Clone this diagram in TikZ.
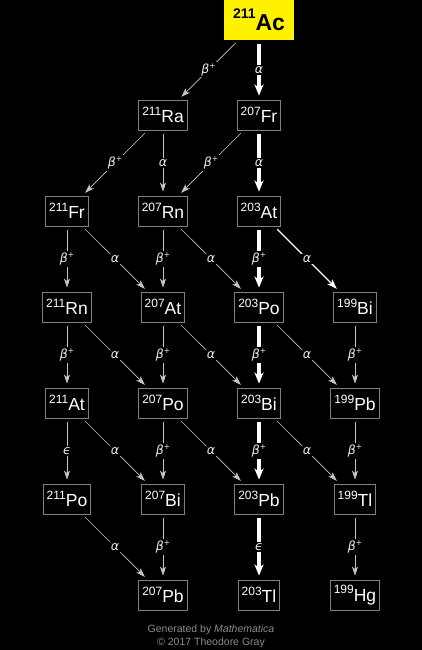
\documentclass[tikz,border=0pt]{standalone}
\usepackage{fontspec}
\setmainfont{Liberation Sans}
\newfontfamily\greekfont{DejaVu Sans}
\usetikzlibrary{arrows.meta}

\newcommand{\iso}[2]{\raisebox{7.5pt}{\fontsize{12}{12}\selectfont #1}{\fontsize{17.5}{17.5}\selectfont #2}}
\newcommand{\isobig}[2]{\textbf{\raisebox{12pt}{\fontsize{14}{14}\selectfont #1}{\fontsize{23}{23}\selectfont #2}}}
\newcommand{\bplus}{β\raisebox{4.5pt}{\fontsize{7.5}{7.5}\selectfont +}}

\tikzset{
  nuc/.style={draw=black!50, line width=0.8pt, fill=black, text=white,
    minimum height=30pt, inner xsep=3.5pt, inner ysep=0pt},
  parent/.style={fill=yellow, text=black, minimum width=70pt, minimum height=40pt,
    inner sep=0pt},
  weak/.style={draw=black!22, line width=0.7pt, shorten <=4pt, shorten >=4pt,
    -{Stealth[length=9pt, width=6pt, inset=2.5pt]}},
  mid/.style={draw=white, line width=1.3pt, shorten <=4pt, shorten >=4pt,
    -{Stealth[length=10pt, width=7pt, inset=2.5pt]}},
  strong/.style={draw=white, line width=3.5pt, shorten <=4pt, shorten >=4pt,
    -{Stealth[length=11pt, width=9pt, inset=3pt]}},
  mode/.style={fill=black, text=white!92!black, inner sep=1.5pt,
    font=\greekfont\itshape\fontsize{12.5}{12.5}\selectfont},
  credit/.style={text=black!45, font=\fontsize{10.5}{11}\selectfont}
}

\begin{document}
\begin{tikzpicture}[x=1pt, y=-1pt]
      \def\dx{96}
      \def\dy{96}
      \useasboundingbox[fill=black] (0,0) rectangle (422,650);
      %
      \node[parent] (Ac211) at (67+2*\dx, 20) {\isobig{211}{Ac}};        % top
      %%
      \node[nuc] (Ra211) at (67+1*\dx, 19+1*\dy) {\iso{211}{Ra}};
      \node[nuc] (Fr207) at (67+2*\dx, 19+1*\dy) {\iso{207}{Fr}};
      %%
      \node[nuc] (Fr211) at (67+0*\dx, 19+2*\dy) {\iso{211}{Fr}};
      \node[nuc] (Rn207) at (67+1*\dx, 19+2*\dy) {\iso{207}{Rn}};
      \node[nuc] (At203) at (67+2*\dx, 19+2*\dy) {\iso{203}{At}};
      %%
      \node[nuc] (Rn211) at (67+0*\dx, 19+3*\dy) {\iso{211}{Rn}};
      \node[nuc] (At207) at (67+1*\dx, 19+3*\dy) {\iso{207}{At}};
      \node[nuc] (Po203) at (67+2*\dx, 19+3*\dy) {\iso{203}{Po}};
      \node[nuc] (Bi199) at (67+3*\dx, 19+3*\dy) {\iso{199}{Bi}};
      %%
      \node[nuc] (At211) at (67+0*\dx, 19+4*\dy) {\iso{211}{At}};
      \node[nuc] (Po207) at (67+1*\dx, 19+4*\dy) {\iso{207}{Po}};
      \node[nuc] (Bi203) at (67+2*\dx, 19+4*\dy) {\iso{203}{Bi}};
      \node[nuc] (Pb199) at (67+3*\dx, 19+4*\dy) {\iso{199}{Pb}};
      %%
      \node[nuc] (Po211) at (67+0*\dx, 19+5*\dy) {\iso{211}{Po}};
      \node[nuc] (Bi207) at (67+1*\dx, 19+5*\dy) {\iso{207}{Bi}};
      \node[nuc] (Pb203) at (67+2*\dx, 19+5*\dy) {\iso{203}{Pb}};
      \node[nuc] (Tl199) at (67+3*\dx, 19+5*\dy) {\iso{199}{Tl}};
      %%
      \node[nuc] (Pb207) at (67+1*\dx, 19+6*\dy) {\iso{207}{Pb}};         % bottom
      \node[nuc] (Tl203) at (67+2*\dx, 19+6*\dy) {\iso{203}{Tl}};
      \node[nuc] (Hg199) at (67+3*\dx, 19+6*\dy) {\iso{199}{Hg}};
      %
      \draw[weak]   (Ac211) -- node[mode] {\bplus} (Ra211);
      \draw[strong] (Ac211) -- node[mode] {α} (Fr207);
      %%
      \draw[weak]   (Ra211) -- node[mode] {\bplus} (Fr211);
      \draw[weak]   (Ra211) -- node[mode] {α} (Rn207);
      \draw[weak]   (Fr207) -- node[mode] {\bplus} (Rn207);
      \draw[strong] (Fr207) -- node[mode] {α} (At203);
      %%
      \draw[weak]   (Fr211) -- node[mode] {\bplus} (Rn211);
      \draw[weak]   (Fr211) -- node[mode] {α} (At207);
      \draw[weak]   (Rn207) -- node[mode] {\bplus} (At207);
      \draw[weak]   (Rn207) -- node[mode] {α} (Po203);
      \draw[strong] (At203) -- node[mode] {\bplus} (Po203);
      \draw[mid]    (At203) -- node[mode] {α} (Bi199);
      %%
      \draw[weak]   (Rn211) -- node[mode] {\bplus} (At211);
      \draw[weak]   (Rn211) -- node[mode] {α} (Po207);
      \draw[weak]   (At207) -- node[mode] {\bplus} (Po207);
      \draw[weak]   (At207) -- node[mode] {α} (Bi203);
      \draw[strong] (Po203) -- node[mode] {\bplus} (Bi203);
      \draw[weak]   (Po203) -- node[mode] {α} (Pb199);
      \draw[weak]   (Bi199) -- node[mode] {\bplus} (Pb199);
      %%
      \draw[weak]   (At211) -- node[mode] {ϵ} (Po211);
      \draw[weak]   (At211) -- node[mode] {α} (Bi207);
      \draw[weak]   (Po207) -- node[mode] {\bplus} (Bi207);
      \draw[weak]   (Po207) -- node[mode] {α} (Pb203);
      \draw[strong] (Bi203) -- node[mode] {\bplus} (Pb203);
      \draw[weak]   (Bi203) -- node[mode] {α} (Tl199);
      \draw[weak]   (Pb199) -- node[mode] {\bplus} (Tl199);
      %%
      \draw[weak]   (Po211) -- node[mode] {α} (Pb207);
      \draw[weak]   (Bi207) -- node[mode] {\bplus} (Pb207);
      \draw[strong] (Pb203) -- node[mode] {ϵ} (Tl203);
      \draw[weak]   (Tl199) -- node[mode] {\bplus} (Hg199);
      %
      \node[credit] (gen) at (211, 630) {Generated by \textit{Mathematica}};
      \node[credit] (copy) at (211, 643) {\textcopyright{} 2017 Theodore Gray};
      %
    \end{tikzpicture}
\end{document}
